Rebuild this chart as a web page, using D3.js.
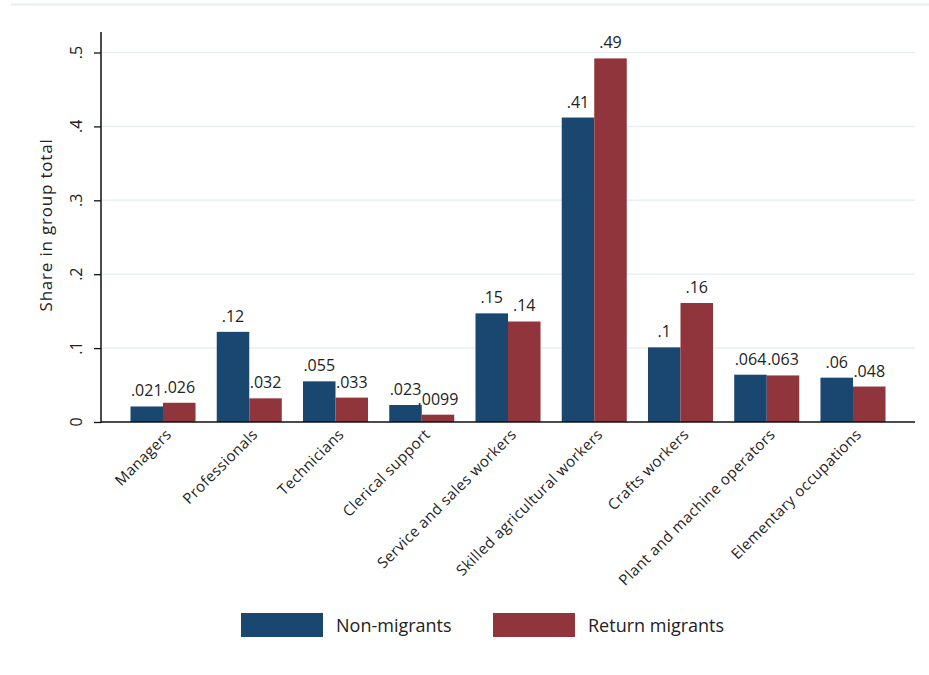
<!DOCTYPE html>
<html lang="en">
<head>
  <meta charset="UTF-8">
  <title>Share in group total by occupation</title>
  <style>
    *{box-sizing:border-box;margin:0;padding:0}
    body{background:#fff;width:929px;height:675px;overflow:hidden}
    svg{display:block;font-family:'Open Sans','Noto Sans',sans-serif}
    .grid line{stroke:#e9f0f2;stroke-width:1.5px}
    .val{font-size:16px;fill:#222;text-anchor:middle}
    .xlab{font-size:15px;fill:#222;text-anchor:end;letter-spacing:0.4px}
    .ytick{font-size:16px;fill:#222;text-anchor:middle}
  </style>
  <script src="https://d3js.org/d3.v7.min.js"></script>
</head>
<body>
  <div id="chart"></div>
  <script>
    /* ---------- DATA ---------- */
    const categories=['Managers','Professionals','Technicians','Clerical support','Service and sales workers','Skilled agricultural workers','Crafts workers','Plant and machine operators','Elementary occupations'];
    const nonMigrants=[0.021,0.122,0.055,0.023,0.147,0.412,0.101,0.064,0.060];
    const returnMigrants=[0.026,0.032,0.033,0.0099,0.136,0.492,0.161,0.063,0.048];
    const seriesNames=['Non-migrants','Return migrants'];
    const yTicks=[0,0.1,0.2,0.3,0.4,0.5];

    /* ---------- LAYOUT ---------- */
    const W=929,H=675;
    const plot={left:101,right:915,top:32,bottom:422};
    const colors=['#1a476f','#90353b'];
    const svg=d3.select('#chart').append('svg').attr('width',W).attr('height',H);

    /* top frame line */
    svg.append('line').attr('x1',11).attr('x2',W).attr('y1',4.5).attr('y2',4.5)
       .attr('stroke','#e6eef0').attr('stroke-width',2);

    /* ---------- SCALES ---------- */
    const x=d3.scaleBand().domain(categories).range([plot.left,plot.right]).paddingInner(0.246).paddingOuter(0.342);
    const xs=d3.scaleBand().domain(seriesNames).range([0,x.bandwidth()]);
    const y=d3.scaleLinear().domain([0,0.5]).range([plot.bottom,52.5]);
    const fmt=v=>d3.format('.2~g')(v).replace(/^0\./,'.');

    /* ---------- GRID ---------- */
    svg.append('g').attr('class','grid').selectAll('line').data(yTicks.slice(1)).enter().append('line')
       .attr('x1',plot.left).attr('x2',plot.right).attr('y1',d=>y(d)).attr('y2',d=>y(d));

    /* ---------- BARS ---------- */
    const rows=categories.map((c,i)=>({cat:c,vals:[nonMigrants[i],returnMigrants[i]]}));
    const grp=svg.append('g').selectAll('g').data(rows).enter().append('g')
       .attr('transform',d=>`translate(${x(d.cat)},0)`);
    grp.selectAll('rect').data(d=>d.vals.map((v,k)=>({v,k}))).enter().append('rect')
       .attr('x',d=>xs(seriesNames[d.k])).attr('width',xs.bandwidth())
       .attr('y',d=>y(d.v)).attr('height',d=>y(0)-y(d.v))
       .attr('fill',d=>colors[d.k]);
    grp.selectAll('text').data(d=>d.vals.map((v,k)=>({v,k}))).enter().append('text')
       .attr('class','val')
       .attr('x',d=>xs(seriesNames[d.k])+xs.bandwidth()/2)
       .attr('y',d=>y(d.v)-10)
       .text(d=>fmt(d.v));

    /* ---------- AXES ---------- */
    const yAxis=svg.append('g').attr('transform',`translate(${plot.left},0)`)
       .call(d3.axisLeft(y).tickValues(yTicks).tickSize(7).tickFormat(''));
    yAxis.select('.domain').remove();
    yAxis.selectAll('.tick line').attr('stroke','#111').attr('stroke-width',1.3);
    svg.append('line').attr('x1',plot.left).attr('x2',plot.left).attr('y1',plot.top).attr('y2',plot.bottom+1)
       .attr('stroke','#111').attr('stroke-width',1.5);
    svg.append('line').attr('x1',plot.left).attr('x2',plot.right).attr('y1',plot.bottom).attr('y2',plot.bottom)
       .attr('stroke','#111').attr('stroke-width',1.5);

    /* rotated tick labels */
    svg.append('g').selectAll('text').data(yTicks).enter().append('text')
       .attr('class','ytick')
       .attr('transform',d=>`translate(82,${y(d)}) rotate(-90)`)
       .text(d=>fmt(d));

    /* y title */
    svg.append('text').attr('transform','translate(52,225) rotate(-90)')
       .attr('text-anchor','middle').attr('fill','#222').style('font-size','17px').style('letter-spacing','0.8px')
       .text('Share in group total');

    /* x labels, 45 degrees */
    svg.append('g').selectAll('text').data(categories).enter().append('text')
       .attr('class','xlab')
       .attr('transform',d=>`translate(${x(d)+x.bandwidth()/2+2},${plot.bottom+6}) rotate(-45)`)
       .attr('dy','0.7em')
       .text(d=>d);

    /* ---------- LEGEND ---------- */
    const legX=[241,493];
    const leg=svg.append('g').selectAll('g').data(seriesNames).enter().append('g')
       .attr('transform',(d,i)=>`translate(${legX[i]},613)`);
    leg.append('rect').attr('width',82).attr('height',24).attr('fill',(d,i)=>colors[i]);
    leg.append('text').attr('x',95).attr('y',19).attr('fill','#222').style('font-size','18px').text(d=>d);
  </script>
</body>
</html>
